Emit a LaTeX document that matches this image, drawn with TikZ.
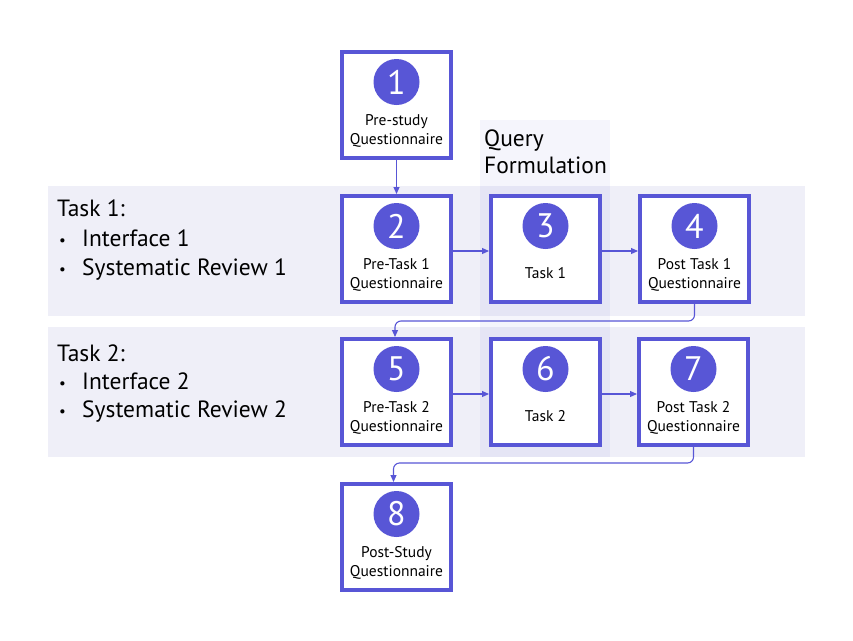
\documentclass[tikz,border=0pt]{standalone}
\usepackage{fontspec}
\setmainfont{PT Sans}
\usetikzlibrary{arrows.meta,shadows,calc}
\definecolor{main}{RGB}{88,86,214}
\definecolor{band}{RGB}{239,239,248}
\definecolor{colshade}{RGB}{110,110,210}
\newcommand{\smallbul}{\makebox[25pt][l]{\hspace{2pt}\raisebox{1pt}{\fontsize{15}{15}\selectfont •}}}
\tikzset{
  box/.style={draw=main, line width=4pt, fill=white, minimum width=109pt, minimum height=106pt,
    inner sep=0pt, drop shadow={shadow xshift=1.5pt, shadow yshift=-2pt, opacity=0.22, fill=black}},
  num/.style={circle, fill=main, minimum size=46pt, inner sep=0pt, text=white, font=\fontsize{34}{34}\selectfont},
  lbl/.style={align=center, inner sep=0pt, font=\fontsize{15.5}{19}\selectfont},
  big/.style={anchor=base west, inner sep=0pt, font=\fontsize{23.5}{27}\selectfont},
  arr/.style={draw=main, line width=1.1pt, -{Triangle[length=7pt,width=6pt]}},
}
\begin{document}
\begin{tikzpicture}[x=1pt,y=-1pt]
\useasboundingbox (0,0) rectangle (853,640);
% bands
\fill[band] (48,186) rectangle (805,316);
\fill[band] (48,327) rectangle (805,457);
\fill[colshade, opacity=0.07] (480,120) rectangle (610,457);
% Query Formulation
\node[big] (qf1) at (484,146) {Query};
\node[big] (qf2) at (484,173) {Formulation};
% Task texts
\node[big] (t1a) at (57,216) {Task 1:};
\node[big] (t1b) at (57,246) {\smallbul Interface 1};
\node[big] (t1c) at (57,275) {\smallbul Systematic Review 1};
\node[big] (t2a) at (57,361) {Task 2:};
\node[big] (t2b) at (57,389) {\smallbul Interface 2};
\node[big] (t2c) at (57,417) {\smallbul Systematic Review 2};
% boxes
\node[box] (b1) at (396.5,105) {};
\node[box] (b2) at (396.5,249) {};
\node[box] (b3) at (545.5,249) {};
\node[box] (b4) at (694.5,249) {};
\node[box] (b5) at (396.5,392) {};
\node[box] (b6) at (545.5,392) {};
\node[box] (b7) at (693.5,392) {};
\node[box] (b8) at (396.5,537) {};
% numbers
\node[num] (n1) at ($(b1.north)+(0,32)$) {1};
\node[num] (n2) at ($(b2.north)+(0,32)$) {2};
\node[num] (n3) at ($(b3.north)+(0,32)$) {3};
\node[num] (n4) at ($(b4.north)+(0,32)$) {4};
\node[num] (n5) at ($(b5.north)+(0,32)$) {5};
\node[num] (n6) at ($(b6.north)+(0,32)$) {6};
\node[num] (n7) at ($(b7.north)+(0,32)$) {7};
\node[num] (n8) at ($(b8.north)+(0,32)$) {8};
% labels
\node[lbl] (l1) at ($(b1.north)+(0,81)$) {Pre-study\\Questionnaire};
\node[lbl] (l2) at ($(b2.north)+(0,81)$) {Pre-Task 1\\Questionnaire};
\node[lbl] (l3) at ($(b3.north)+(0,79)$) {Task 1};
\node[lbl] (l4) at ($(b4.north)+(0,81)$) {Post Task 1\\Questionnaire};
\node[lbl] (l5) at ($(b5.north)+(0,81)$) {Pre-Task 2\\Questionnaire};
\node[lbl] (l6) at ($(b6.north)+(0,79)$) {Task 2};
\node[lbl] (l7) at ($(b7.north)+(0,81)$) {Post Task 2\\Questionnaire};
\node[lbl] (l8) at ($(b8.north)+(0,81)$) {Post-Study\\Questionnaire};
% arrows
\draw[arr] (b1.south) -- (b2.north);
\draw[arr] ($(b2.east)+(0,2)$) -- ($(b3.west)+(0,2)$);
\draw[arr] ($(b3.east)+(0,2)$) -- ($(b4.west)+(0,2)$);
\draw[arr] ($(b5.east)+(0,2)$) -- ($(b6.west)+(0,2)$);
\draw[arr] ($(b6.east)+(0,2)$) -- ($(b7.west)+(0,2)$);
\draw[arr, rounded corners=6pt] (b4.south) -- ($(b4.south)+(0,17)$) -| ($(b5.north)+(-1.5,0)$);
\draw[arr, rounded corners=6pt] (b7.south) -- ($(b7.south)+(0,16)$) -| ($(b8.north)+(-3,0)$);
\end{tikzpicture}
\end{document}
